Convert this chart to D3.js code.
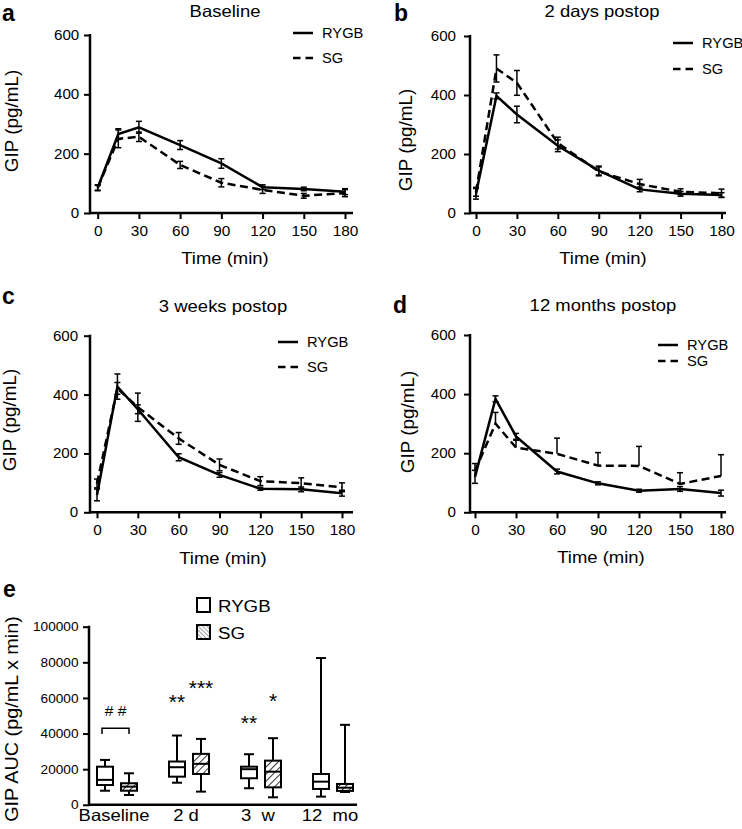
<!DOCTYPE html>
<html><head><meta charset="utf-8">
<script src="https://cdn.jsdelivr.net/npm/d3@7"></script>
<style>
html,body{margin:0;padding:0;background:#fff;}
svg{display:block;font-family:"Liberation Sans",Arial,Helvetica,sans-serif;}
</style></head>
<body>
<svg id="chart" width="742" height="829"></svg>
<script>
// ---------------- DATA ----------------
const times = [0, 15, 30, 60, 90, 120, 150, 180];
const timeTicks = [0, 30, 60, 90, 120, 150, 180];
const gipTicks = [0, 200, 400, 600];
const seriesNames = ["RYGB", "SG"];
const panelTitles = ["Baseline", "2 days postop", "3 weeks postop", "12 months postop"];
const panelLetters = ["a", "b", "c", "d", "e"];

// GIP (pg/mL), mean and SEM
const rygbBaseline = [85, 266, 289, 229, 167, 87, 81, 72];
const rygbBaselineErr = [10, 18, 20, 15, 16, 8, 6, 10];
const sgBaseline = [85, 250, 257, 162, 102, 78, 58, 67];
const sgBaselineErr = [8, 30, 16, 12, 14, 12, 8, 12];

const rygb2d = [65, 397, 334, 228, 144, 80, 65, 61];
const rygb2dErr = [18, 10, 28, 20, 15, 8, 8, 8];
const sg2d = [72, 490, 441, 237, 141, 98, 72, 67];
const sg2dErr = [15, 46, 42, 20, 15, 16, 10, 14];

const rygb3w = [59, 427, 350, 187, 127, 80, 78, 65];
const rygb3wErr = [20, 43, 15, 12, 8, 5, 8, 10];
const sg3w = [98, 421, 357, 251, 161, 106, 99, 85];
const sg3wErr = [15, 20, 48, 20, 20, 15, 18, 15];

const rygb12m = [120, 384, 257, 138, 98, 73, 79, 65];
const rygb12mErr = [22, 10, 10, 8, 5, 5, 8, 10];
const sg12m = [140, 300, 219, 198, 158, 157, 96, 123];
const sg12mErr = [25, 38, 25, 53, 44, 66, 38, 72];

// AUC box plots: [min, q1, median, q3, max]
const aucGroups = ["Baseline", "2 d", "3  w", "12  mo"];
const aucTicks = [0, 20000, 40000, 60000, 80000, 100000];
const rygbAuc = [
  [7900, 11100, 14000, 21400, 25200],
  [12400, 15800, 21100, 24300, 38900],
  [9300, 14900, 20000, 21400, 28400],
  [4600, 8900, 13000, 17300, 82400]
];
const sgAuc = [
  [5500, 7900, 10200, 12100, 17700],
  [7400, 17300, 23000, 28600, 37000],
  [4200, 9800, 18600, 24800, 37400],
  [7200, 7800, 9600, 11700, 44900]
];
// significance marks: group index, series index, value level of text baseline
const sigMarks = [
  {g: 1, s: 0, level: 53900, text: "**"},
  {g: 1, s: 1, level: 61800, text: "***"},
  {g: 2, s: 0, level: 42100, text: "**"},
  {g: 2, s: 1, level: 54500, text: "*"}
];
const hashMark = {g: 0, level: 50000, text: "# #", bracketTop: 43000, bracketBottom: 39800};

// ---------------- LAYOUT ----------------
const FONT_SX = 1.12;
const panels = [
  {rygb: rygbBaseline, rygbErr: rygbBaselineErr, sg: sgBaseline, sgErr: sgBaselineErr, sgOneSided: false,
   L: {left: 90, xs: 97.7, xe: 345, axisEnd: 353, top: 35, bottom: 213, letter: [2, 21], title: [225, 17],
       ylab: [12, 121], xlab: [225, 264], legend: [293, 33, 25], yPad: 4}},
  {rygb: rygb2d, rygbErr: rygb2dErr, sg: sg2d, sgErr: sg2dErr, sgOneSided: false,
   L: {left: 470, xs: 476, xe: 721.5, axisEnd: 726, top: 36, bottom: 213, letter: [394, 21], title: [602, 17],
       ylab: [406, 140], xlab: [603, 264], legend: [673, 43, 26], yPad: 7}},
  {rygb: rygb3w, rygbErr: rygb3wErr, sg: sg3w, sgErr: sg3wErr, sgOneSided: false,
   L: {left: 90, xs: 97, xe: 342, axisEnd: 353, top: 335.7, bottom: 512.3, letter: [2, 304], title: [223, 312],
       ylab: [10, 420], xlab: [223, 564], legend: [278, 342, 25], yPad: 5}},
  {rygb: rygb12m, rygbErr: rygb12mErr, sg: sg12m, sgErr: sg12mErr, sgOneSided: true,
   L: {left: 470, xs: 475, xe: 721, axisEnd: 726, top: 335, bottom: 512.3, letter: [393, 313], title: [603, 311],
       ylab: [408, 422], xlab: [601, 563], legend: [658, 345, 16], yPad: 7}}
];

const svg = d3.select("#chart");

function addText(g, x, y, str, o = {}) {
  const t = g.append("text")
    .attr("transform", `translate(${x},${y}) rotate(${o.rotate || 0}) scale(${o.sx == null ? FONT_SX : o.sx},1)`)
    .attr("text-anchor", o.anchor || "middle")
    .attr("font-size", o.size || 16)
    .attr("font-weight", o.weight || 400)
    .attr("font-family", "Liberation Sans, Arial, sans-serif")
    .attr("fill", "#000")
    .style("white-space", "pre")
    .text(str);
  return t;
}

function styleAxis(g, sx, size) {
  g.select(".domain").remove();
  g.selectAll(".tick line").attr("stroke", "#000").attr("stroke-width", 2);
  g.selectAll(".tick text").attr("font-size", size || 14).attr("fill", "#000")
    .attr("font-family", "Liberation Sans, Arial, sans-serif");
  if (sx) g.selectAll(".tick text").attr("transform", `scale(${sx},1)`);
}

// ---------------- PANELS a-d ----------------
panels.forEach((p, i) => {
  const L = p.L;
  const g = svg.append("g");
  const x = d3.scaleLinear().domain([0, 180]).range([L.xs, L.xe]);
  const y = d3.scaleLinear().domain([0, 600]).range([L.bottom, L.top]);

  // axes
  const ya = g.append("g").attr("transform", `translate(${L.left},0)`)
    .call(d3.axisLeft(y).tickValues(gipTicks).tickSize(6).tickPadding(L.yPad));
  styleAxis(ya, 1.08);
  const xa = g.append("g").attr("transform", `translate(0,${L.bottom})`)
    .call(d3.axisBottom(x).tickValues(timeTicks).tickSize(6).tickPadding(7));
  styleAxis(xa, 1.1);
  g.append("line").attr("x1", L.left).attr("x2", L.left).attr("y1", L.top - 1).attr("y2", L.bottom + 1.25)
    .attr("stroke", "#000").attr("stroke-width", 2.5);
  g.append("line").attr("x1", L.left).attr("x2", L.axisEnd).attr("y1", L.bottom).attr("y2", L.bottom)
    .attr("stroke", "#000").attr("stroke-width", 2.5);

  // error bars
  function errBars(vals, errs, oneSided) {
    const eg = g.append("g").attr("stroke", "#000").attr("stroke-width", 1.5);
    vals.forEach((v, k) => {
      const cx = x(times[k]);
      const hi = y(v + errs[k]);
      const lo = oneSided ? y(v) : y(v - errs[k]);
      eg.append("line").attr("x1", cx).attr("x2", cx).attr("y1", hi).attr("y2", lo);
      eg.append("line").attr("x1", cx - 3).attr("x2", cx + 3).attr("y1", hi).attr("y2", hi);
      if (!oneSided) eg.append("line").attr("x1", cx - 3).attr("x2", cx + 3).attr("y1", lo).attr("y2", lo);
    });
  }
  errBars(p.rygb, p.rygbErr, false);
  errBars(p.sg, p.sgErr, p.sgOneSided);

  const line = d3.line().x((d, k) => x(times[k])).y(d => y(d));
  g.append("path").datum(p.sg).attr("d", line).attr("fill", "none").attr("stroke", "#000")
    .attr("stroke-width", 2.5).attr("stroke-dasharray", "8,4.5");
  g.append("path").datum(p.rygb).attr("d", line).attr("fill", "none").attr("stroke", "#000")
    .attr("stroke-width", 2.5);

  // legend
  const [lx, ly, ld] = L.legend;
  seriesNames.forEach((nm, k) => {
    const yy = ly + k * ld;
    g.append("line").attr("x1", lx).attr("x2", lx + 20).attr("y1", yy).attr("y2", yy)
      .attr("stroke", "#000").attr("stroke-width", 2.5).attr("stroke-dasharray", k ? "7.5,5" : null);
    addText(g, lx + 29, yy + 5, nm, {size: 14, anchor: "start", sx: 1.05});
  });

  // texts
  addText(g, L.letter[0], L.letter[1], panelLetters[i], {size: 23, anchor: "start", weight: 700, sx: 1});
  addText(g, L.title[0], L.title[1], panelTitles[i], {size: 16.5});
  addText(g, L.xlab[0], L.xlab[1], "Time (min)", {size: 16.5});
  addText(g, L.ylab[0] + 6, L.ylab[1], "GIP (pg/mL)", {size: 18.5, rotate: -90, sx: 1.02});
});

// ---------------- PANEL e ----------------
(function () {
  const g = svg.append("g");
  const left = 89, axisEnd = 357, top = 626.7, bottom = 804.8;
  const y = d3.scaleLinear().domain([0, 100000]).range([bottom, top]);
  const xb = d3.scaleBand().domain(aucGroups).range([81, 369]);
  const off = [-12, 12];
  const bw = 16;
  const cx = (gi, s) => xb(aucGroups[gi]) + xb.bandwidth() / 2 + off[s];

  const defs = svg.append("defs");
  defs.append("pattern").attr("id", "hatch").attr("patternUnits", "userSpaceOnUse")
    .attr("width", 5).attr("height", 5).attr("patternTransform", "rotate(45)")
    .call(pt => {
      pt.append("rect").attr("width", 5).attr("height", 5).attr("fill", "#fff");
      pt.append("line").attr("x1", 0).attr("x2", 0).attr("y1", 0).attr("y2", 5)
        .attr("stroke", "#000").attr("stroke-width", 1.6);
    });
  defs.append("pattern").attr("id", "hatch2").attr("patternUnits", "userSpaceOnUse")
    .attr("width", 3).attr("height", 3).attr("patternTransform", "rotate(-45)")
    .call(pt => {
      pt.append("rect").attr("width", 3).attr("height", 3).attr("fill", "#fff");
      pt.append("line").attr("x1", 0).attr("x2", 0).attr("y1", 0).attr("y2", 3)
        .attr("stroke", "#444").attr("stroke-width", 1);
    });

  const ya = g.append("g").attr("transform", `translate(${left},0)`)
    .call(d3.axisLeft(y).tickValues(aucTicks).tickSize(6).tickPadding(4).tickFormat(d3.format("d")));
  styleAxis(ya, 1.05, 13);
  g.append("line").attr("x1", left).attr("x2", left).attr("y1", top - 1).attr("y2", bottom + 1.25)
    .attr("stroke", "#000").attr("stroke-width", 2.5);
  g.append("line").attr("x1", left).attr("x2", axisEnd).attr("y1", bottom).attr("y2", bottom)
    .attr("stroke", "#000").attr("stroke-width", 2.5);

  function box(stats, gi, s) {
    const c = cx(gi, s);
    const [mn, q1, md, q3, mx] = stats;
    const bg = g.append("g").attr("stroke", "#000").attr("stroke-width", 2);
    bg.append("line").attr("x1", c).attr("x2", c).attr("y1", y(mx)).attr("y2", y(mn));
    bg.append("line").attr("x1", c - 5).attr("x2", c + 5).attr("y1", y(mx)).attr("y2", y(mx));
    bg.append("line").attr("x1", c - 5).attr("x2", c + 5).attr("y1", y(mn)).attr("y2", y(mn));
    bg.append("rect").attr("x", c - bw / 2).attr("width", bw).attr("y", y(q3)).attr("height", y(q1) - y(q3))
      .attr("fill", s ? "url(#hatch)" : "#fff");
    bg.append("line").attr("x1", c - bw / 2).attr("x2", c + bw / 2).attr("y1", y(md)).attr("y2", y(md));
  }
  rygbAuc.forEach((st, gi) => box(st, gi, 0));
  sgAuc.forEach((st, gi) => box(st, gi, 1));

  // group labels
  aucGroups.forEach((gn, gi) => {
    addText(g, xb(gn) + xb.bandwidth() / 2 - 3, 821, gn, {size: 16.5});
  });

  // significance marks
  sigMarks.forEach(m => addText(g, cx(m.g, m.s), y(m.level), m.text, {size: 21, sx: 1}));
  const hx0 = cx(hashMark.g, 0) - 3, hx1 = cx(hashMark.g, 1);
  addText(g, (hx0 + hx1) / 2, y(hashMark.level), hashMark.text, {size: 15.5, sx: 1});
  g.append("path")
    .attr("d", `M${hx0},${y(hashMark.bracketBottom)}V${y(hashMark.bracketTop)}H${hx1}V${y(hashMark.bracketBottom)}`)
    .attr("fill", "none").attr("stroke", "#000").attr("stroke-width", 1.5);

  // legend
  const lg = [["RYGB", "#fff"], ["SG", "url(#hatch2)"]];
  lg.forEach((d, k) => {
    const yy = 598 + k * 27;
    g.append("rect").attr("x", 197).attr("y", yy).attr("width", 13).attr("height", 14)
      .attr("fill", d[1]).attr("stroke", "#000").attr("stroke-width", 2);
    addText(g, 218, yy + 13.5, d[0], {size: 17, anchor: "start", sx: 1.1});
  });

  addText(g, 3, 597, panelLetters[4], {size: 23, anchor: "start", weight: 700, sx: 1});
  addText(g, 18, 719, "GIP AUC (pg/mL x min)", {size: 18, rotate: -90, sx: 1.1});
})();
</script>
</body></html>
